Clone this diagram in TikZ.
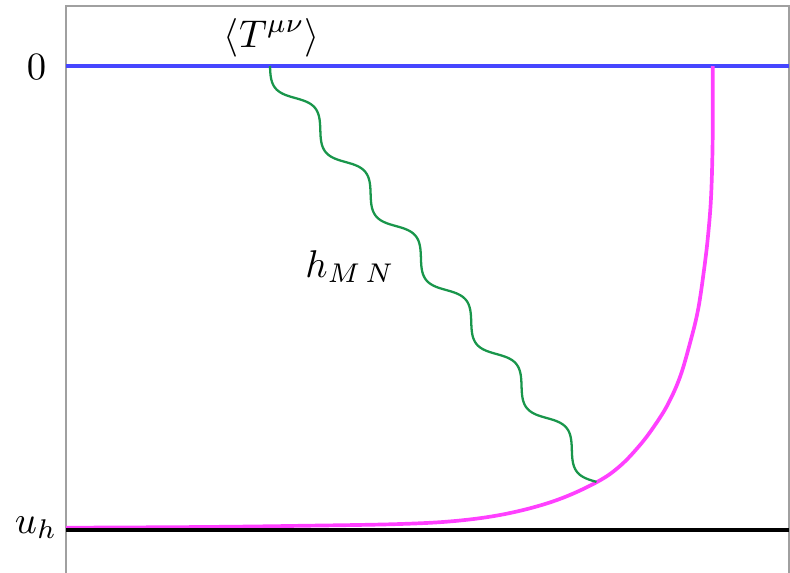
\documentclass[tikz,border=0pt]{standalone}
\usepackage{amsmath}
\usepackage{tikz}
\usetikzlibrary{calc}
\definecolor{bndblue}{RGB}{70,70,255}
\definecolor{stringpink}{RGB}{255,64,255}
\definecolor{wavegreen}{RGB}{25,150,75}
\definecolor{framegray}{RGB}{160,160,160}

\begin{document}
\begin{tikzpicture}[
    x=0.02cm, y=-0.02cm,
    lbl/.style={anchor=base, inner sep=0pt, scale=2.2},
    boundary/.style={draw=bndblue, line width=2.2pt},
    horizon/.style={draw=black, line width=2.2pt},
    string/.style={draw=stringpink, line width=2.1pt},
    graviton/.style={draw=wavegreen, line width=1.3pt}
  ]
  \useasboundingbox (0,0) rectangle (790,572);
  \clip (0,0) rectangle (790,572);

  % frame of the plot
  \draw[framegray, line width=0.6pt] (66,620) -- (66,6) -- (789,6) -- (789,620);

  \coordinate (bl) at (66,66);
  \coordinate (br) at (789,66);
  \coordinate (hl) at (66,530);
  \coordinate (hr) at (789,530);
  \coordinate (src) at (270,66);
  \coordinate (hit) at (597,482);

  \draw[boundary] (bl) -- (br);

  % string falling towards the horizon
  \draw[string] plot[smooth, tension=0.6] coordinates {
    (66,527.7) (200,527) (300,525.8) (400,524) (460,520.5) (510,513)
    (557,500) (597,482) (620,466) (640,445) (655,425) (668,404) (680,377)
    (690,343) (698,310) (704,270) (708,236) (711,198) (712.5,150)
    (712.7,110) (712.7,66)};

  \draw[horizon] (hl) -- (hr);

  % wavy graviton line, 6.5 periods from src to hit
  \draw[graviton] let \p1=(src), \p2=(hit), \n1={veclen(\x2-\x1,\y2-\y1)} in
    plot[variable=\t, domain=0:1, samples=300, smooth]
    ({\x1+\t*(\x2-\x1)+5.4*sin(13*180*\t)*(\y2-\y1)/\n1},
     {\y1+\t*(\y2-\y1)-5.4*sin(13*180*\t)*(\x2-\x1)/\n1});

  \node[lbl] (zero) at (36.5,79)  {$0$};
  \node[lbl] (uh)   at (36,533)   {$u_h$};
  \node[lbl] (tmn)  at (272,47)   {$\langle T^{\mu\nu}\rangle$};
  \node[lbl] (hmn)  at (350,277)  {$h_{M\,N}$};
\end{tikzpicture}
\end{document}
